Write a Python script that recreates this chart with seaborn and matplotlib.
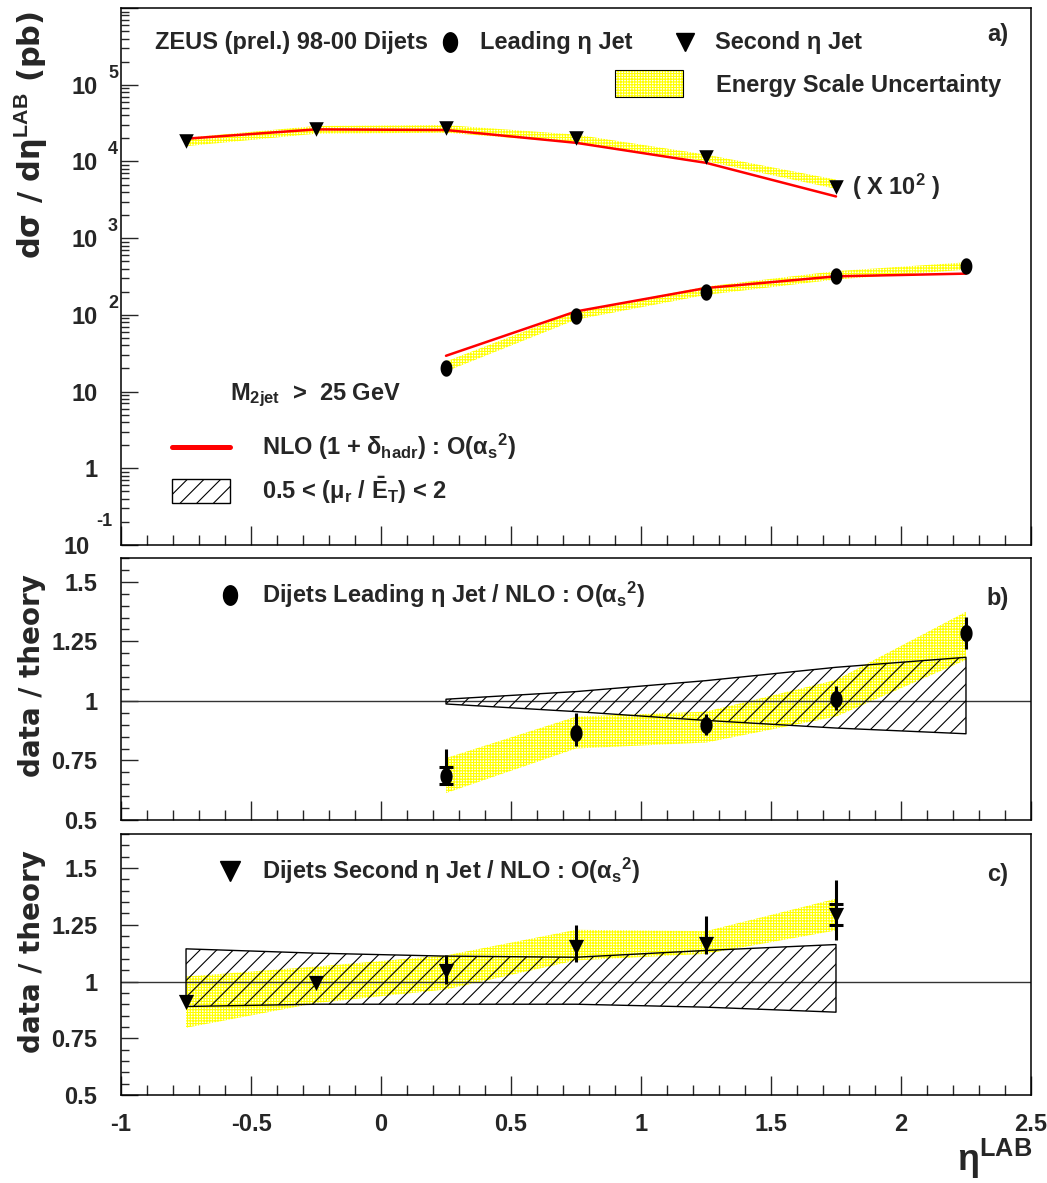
import numpy as np
import pandas as pd
import matplotlib
matplotlib.use("Agg")
import matplotlib.pyplot as plt
import seaborn as sns
from matplotlib.patches import Rectangle
from matplotlib.lines import Line2D
from matplotlib.path import Path
from matplotlib.ticker import MultipleLocator, FixedLocator, LogLocator, NullFormatter
from matplotlib.transforms import blended_transform_factory

# ---------------- data ----------------
eta_lead = [0.25, 0.75, 1.25, 1.75, 2.25]
eta_second = [-0.75, -0.25, 0.25, 0.75, 1.25, 1.75]

xsec_lead = [20.3, 97.7, 199.0, 325.0, 439.0]
nlo_lead = [29.3, 111.0, 224.0, 318.0, 345.0]
escale_lead_lo = [18.3, 86.5, 182.0, 289.0, 389.0]
escale_lead_hi = [24.7, 111.0, 234.0, 372.0, 484.0]

xsec_second = [1.84e4, 2.67e4, 2.72e4, 2.04e4, 1.13e4, 4.7e3]   # (x 10^2)
nlo_second = [1.98e4, 2.62e4, 2.57e4, 1.75e4, 9.6e3, 3.5e3]
escale_second_lo = [1.58e4, 2.30e4, 2.37e4, 1.75e4, 1.01e4, 4.4e3]
escale_second_hi = [2.04e4, 2.90e4, 2.98e4, 2.24e4, 1.23e4, 5.8e3]

ratio_lead = [0.686, 0.867, 0.897, 1.007, 1.286]
ratio_lead_up = [0.800, 0.948, 0.946, 1.063, 1.353]
ratio_lead_dn = [0.652, 0.809, 0.855, 0.962, 1.216]
ratio_lead_stat = [0.036, 0.0, 0.0, 0.0, 0.0]
escale_ratio_lead_lo = [0.613, 0.800, 0.825, 0.934, 1.172]
escale_ratio_lead_hi = [0.760, 0.934, 0.955, 1.088, 1.374]
scale_ratio_lead_lo = [0.987, 0.955, 0.918, 0.886, 0.862]
scale_ratio_lead_hi = [1.007, 1.039, 1.085, 1.141, 1.183]

ratio_second = [0.909, 0.995, 1.048, 1.151, 1.166, 1.295]
ratio_second_up = [0.930, 1.010, 1.115, 1.247, 1.287, 1.448]
ratio_second_dn = [0.895, 0.980, 0.990, 1.085, 1.122, 1.181]
ratio_second_stat = [0.0, 0.0, 0.0, 0.0, 0.0, 0.045]
escale_ratio_second_lo = [0.796, 0.905, 0.965, 1.093, 1.122, 1.225]
escale_ratio_second_hi = [1.022, 1.066, 1.115, 1.228, 1.222, 1.365]
scale_ratio_second_lo = [0.890, 0.900, 0.900, 0.900, 0.887, 0.865]
scale_ratio_second_hi = [1.144, 1.125, 1.112, 1.107, 1.137, 1.163]

x_ticks = [-1, -0.5, 0, 0.5, 1, 1.5, 2, 2.5]
x_tick_labels = ["-1", "-0.5", "0", "0.5", "1", "1.5", "2", "2.5"]
ratio_ticks = [0.5, 0.75, 1, 1.25, 1.5]
ratio_tick_labels = ["0.5", "0.75", "1", "1.25", "1.5"]
log_ticks = [1e-1, 1, 10, 1e2, 1e3, 1e4, 1e5]
log_tick_labels = ["", "1", "10", "10", "10", "10", "10"]
log_tick_exponents = ["", "", "", "2", "3", "4", "5"]

# ---------------- style ----------------
sns.set_style("ticks")
FONT = ["Liberation Sans Narrow", "Liberation Sans", "DejaVu Sans"]
plt.rcParams.update({
    "font.family": FONT,
    "font.weight": "bold",
    "mathtext.fontset": "custom",
    "mathtext.rm": "Liberation Sans:bold",
    "mathtext.bf": "Liberation Sans:bold",
    "mathtext.it": "Liberation Sans:bold",
    "mathtext.sf": "Liberation Sans:bold",
    "hatch.linewidth": 0.8,
    "axes.linewidth": 1.1,
    "axes.edgecolor": "black",
    "xtick.direction": "in",
    "ytick.direction": "in",
})

YELLOW = "#ffff00"
YHATCH = "++++++"
BHATCH = "//"
TXT = 17
tt = np.linspace(0, 2 * np.pi, 41)
ellipse = Path(np.column_stack([0.72 * np.cos(tt), np.sin(tt)]), closed=True)

fig = plt.figure(figsize=(10.47, 11.83), dpi=100)
L, W = 0.1156, 0.8691
ax1 = fig.add_axes([L, 0.5393, W, 0.4539])
ax2 = fig.add_axes([L, 0.30685, W, 0.2215])
ax3 = fig.add_axes([L, 0.07439, W, 0.2206])

for ax in (ax1, ax2, ax3):
    ax.set_xlim(-1, 2.5)
    ax.xaxis.set_major_locator(FixedLocator(x_ticks))
    ax.xaxis.set_minor_locator(MultipleLocator(0.1))
    ax.tick_params(axis="x", which="major", length=14, width=1, top=False, pad=13, labelsize=17)
    ax.tick_params(axis="x", which="minor", length=7, width=1, top=False)
    ax.tick_params(axis="y", which="major", length=12, width=1, right=False, pad=17, labelsize=17)
    ax.tick_params(axis="y", which="minor", length=6, width=1, right=False)
    for sp in ax.spines.values():
        sp.set_visible(True)
        sp.set_linewidth(1.1)

ax1.tick_params(axis="x", labelbottom=False)
ax2.tick_params(axis="x", labelbottom=False)
ax3.set_xticks(x_ticks)
ax3.set_xticklabels(x_tick_labels)

# ---------------- panel a ----------------
ax1.set_yscale("log")
ax1.set_ylim(0.1, 1e6)
ax1.yaxis.set_minor_locator(LogLocator(base=10, subs=range(2, 10), numticks=20))
ax1.yaxis.set_minor_formatter(NullFormatter())
ax1.set_yticks(log_ticks + [1e6])
ax1.set_yticklabels(log_tick_labels + [""])
blend = blended_transform_factory(ax1.transAxes, ax1.transData)
for v, e in zip(log_ticks, log_tick_exponents):
    if e:
        ax1.annotate(e, xy=(0, v), xycoords=blend, xytext=(-13, 3), textcoords="offset pixels",
                     ha="left", va="bottom", fontsize=13, annotation_clip=False)
fig.text(112 / 1047, 1 - 522 / 1183, "-1", ha="right", va="center", fontsize=13)
fig.text(77 / 1047, 1 - 547 / 1183, "10", ha="center", va="center", fontsize=17)

ax1.fill_between(eta_lead, escale_lead_lo, escale_lead_hi, facecolor="none",
                 edgecolor=YELLOW, linewidth=0, hatch=YHATCH, zorder=1)
ax1.fill_between(eta_second, escale_second_lo, escale_second_hi, facecolor="none",
                 edgecolor=YELLOW, linewidth=0, hatch=YHATCH, zorder=1)
sns.lineplot(x=eta_lead, y=nlo_lead, ax=ax1, color="red", linewidth=1.8,
             estimator=None, sort=False, zorder=3)
sns.lineplot(x=eta_second, y=nlo_second, ax=ax1, color="red", linewidth=1.8,
             estimator=None, sort=False, zorder=3)
sns.scatterplot(x=eta_lead, y=xsec_lead, ax=ax1, marker=ellipse, s=140, color="black",
                linewidth=0, zorder=5)
sns.scatterplot(x=eta_second, y=xsec_second, ax=ax1, marker="v", s=110, color="black",
                linewidth=0, zorder=5)
ax1.set_xlabel("")
ax1.set_ylabel("")

tA = ax1.transAxes
ax1.text(0.0374, 0.9367, "ZEUS (prel.) 98-00 Dijets", transform=tA, ha="left", va="center", fontsize=TXT)
ax1.plot([0.3615], [0.9367], marker=ellipse, markersize=14, color="black", transform=tA, clip_on=False)
ax1.text(0.3945, 0.9367, "Leading η Jet", transform=tA, ha="left", va="center", fontsize=TXT)
ax1.plot([0.62], [0.9367], marker="v", markersize=13, color="black", transform=tA, clip_on=False)
ax1.text(0.6527, 0.9367, "Second η Jet", transform=tA, ha="left", va="center", fontsize=TXT)
ax1.text(0.975, 0.95, "a)", transform=tA, ha="right", va="center", fontsize=TXT)
ax1.add_patch(Rectangle((0.543, 0.834), 0.0746, 0.0505, transform=tA, facecolor="none",
                        edgecolor=YELLOW, linewidth=0, hatch=YHATCH, zorder=2))
ax1.add_patch(Rectangle((0.543, 0.834), 0.0746, 0.0505, transform=tA, facecolor="none",
                        edgecolor="black", linewidth=0.8, zorder=3))
ax1.text(0.654, 0.8566, "Energy Scale Uncertainty", transform=tA, ha="left", va="center", fontsize=TXT)
ax1.text(0.803, 0.6667, "( X 10$^{2}$ )", transform=tA, ha="left", va="center", fontsize=TXT)
ax1.text(0.12, 0.279, "M$_{\\mathbf{2jet}}$  >  25 GeV", transform=tA, ha="left", va="center", fontsize=TXT)
ax1.add_line(Line2D([0.056, 0.12], [0.1825, 0.1825], transform=tA, color="red", linewidth=3.6))
ax1.text(0.155, 0.1825, "NLO (1 + δ$_{\\mathbf{hadr}}$) : O(α$_{\\mathbf{s}}$$^{\\mathbf{2}}$)",
         transform=tA, ha="left", va="center", fontsize=TXT)
ax1.add_patch(Rectangle((0.056, 0.0782), 0.064, 0.045, transform=tA, facecolor="none",
                        edgecolor="black", linewidth=1, hatch=BHATCH))
ax1.text(0.155, 0.1024, "0.5 < (μ$_{\\mathbf{r}}$ / $\\mathbf{\\bar{E}_{T}}$) < 2",
         transform=tA, ha="left", va="center", fontsize=TXT)


def ratio_panel(ax, eta, ratio, up, dn, stat, e_lo, e_hi, s_lo, s_hi, marker, msize, ylim, label, tag):
    ax.set_ylim(*ylim)
    ax.yaxis.set_minor_locator(MultipleLocator(0.05))
    ax.set_yticks(ratio_ticks)
    ax.set_yticklabels(ratio_tick_labels)
    ax.axhline(1.0, color="#333333", linewidth=1.0, zorder=1.5)
    ax.fill_between(eta, e_lo, e_hi, facecolor="none", edgecolor=YELLOW, linewidth=0,
                    hatch=YHATCH, zorder=1)
    ax.fill_between(eta, s_lo, s_hi, facecolor="none", edgecolor="black", linewidth=1.0,
                    hatch=BHATCH, zorder=2)
    ax.vlines(eta, dn, up, color="black", linewidth=2.2, zorder=4)
    r = np.asarray(ratio)
    st = np.asarray(stat)
    ex = np.asarray(eta)
    m = st > 0
    if m.any():
        ax.hlines(np.concatenate([r[m] + st[m], r[m] - st[m]]),
                  np.concatenate([ex[m], ex[m]]) - 0.027,
                  np.concatenate([ex[m], ex[m]]) + 0.027, color="black", linewidth=2.2, zorder=4)
    sns.scatterplot(x=eta, y=ratio, ax=ax, marker=marker, s=msize, color="black",
                    linewidth=0, zorder=5)
    t = ax.transAxes
    ax.plot([0.12], [0.86], marker=marker, markersize=14, color="black", transform=t, clip_on=False)
    ax.text(0.155, 0.86, label, transform=t, ha="left", va="center", fontsize=TXT)
    ax.text(0.975, 0.845, tag, transform=t, ha="right", va="center", fontsize=TXT)
    ax.set_xlabel("")
    ax.set_ylabel("")


ratio_panel(ax2, eta_lead, ratio_lead, ratio_lead_up, ratio_lead_dn, ratio_lead_stat,
            escale_ratio_lead_lo, escale_ratio_lead_hi, scale_ratio_lead_lo, scale_ratio_lead_hi,
            ellipse, 150, (0.5, 1.6),
            "Dijets Leading η Jet / NLO : O(α$_{\\mathbf{s}}$$^{\\mathbf{2}}$)", "b)")
ratio_panel(ax3, eta_second, ratio_second, ratio_second_up, ratio_second_dn, ratio_second_stat,
            escale_ratio_second_lo, escale_ratio_second_hi, scale_ratio_second_lo, scale_ratio_second_hi,
            "v", 120, (0.5, 1.65),
            "Dijets Second η Jet / NLO : O(α$_{\\mathbf{s}}$$^{\\mathbf{2}}$)", "c)")

# ---------------- axis titles ----------------
fig.text(0.029, 0.886, "dσ / dη$^{\\mathbf{LAB}}$ (pb)", rotation=90, ha="center", va="center",
         fontsize=22, family="DejaVu Sans", fontweight="bold")
fig.text(0.031, 0.4286, "data / theory", rotation=90, ha="center", va="center",
         fontsize=20, family="DejaVu Sans", fontweight="bold")
fig.text(0.031, 0.196, "data / theory", rotation=90, ha="center", va="center",
         fontsize=20, family="DejaVu Sans", fontweight="bold")
fig.text(1032 / 1047, 0.002, "η$^{\\mathbf{LAB}}$", ha="right", va="bottom", fontsize=26)

fig.savefig("out.png", dpi=100)
